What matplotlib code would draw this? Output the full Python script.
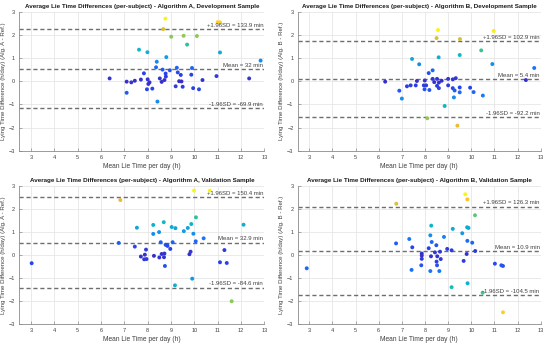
import numpy as np
import matplotlib
matplotlib.use("Agg")
import matplotlib.pyplot as plt
from matplotlib.colors import LinearSegmentedColormap

plt.rcParams['font.family'] = ['Liberation Sans', 'DejaVu Sans']

# ---------------- data ----------------
titles = [
    "Average Lie Time Differences (per-subject) - Algorithm A, Development Sample",
    "Average Lie Time Differences (per-subject) - Algorithm B, Development Sample",
    "Average Lie Time Differences (per-subject) - Algorithm A, Validation Sample",
    "Average Lie Time Differences (per-subject) - Algorithm B, Validation Sample",
]
ylabels = [
    "Lying Time Difference (h/day) (Alg. A - Ref.)",
    "Lying Time Difference (h/day) (Alg. B - Ref.)",
    "Lying Time Difference (h/day) (Alg. A - Ref.)",
    "Lying Time Difference (h/day) (Alg. B - Ref.)",
]
xlabel = "Mean Lie Time per day (h)"

# limits of agreement in minutes: (upper, mean, lower)
loa_min = [
    (133.9, 32.0, -69.9),
    (102.9, 5.4, -92.2),
    (150.4, 32.9, -84.6),
    (126.3, 10.9, -104.5),
]
loa_text = [
    ("+1.96SD = 133.9 min", "Mean = 32 min", "-1.96SD = -69.9 min"),
    ("+1.96SD = 102.9 min", "Mean = 5.4 min", "-1.96SD = -92.2 min"),
    ("+1.96SD = 150.4 min", "Mean = 32.9 min", "-1.96SD = -84.6 min"),
    ("+1.96SD = 126.3 min", "Mean = 10.9 min", "-1.96SD = -104.5 min"),
]

x_a_dev = [8.76, 11.0, 11.1, 8.67, 9.01, 9.54, 10.11, 9.69, 7.63, 7.99, 11.1, 8.80, 8.39,
           12.84, 8.36, 8.64, 8.95, 9.25, 9.90, 7.84, 8.77, 9.29, 8.78, 9.42, 9.87, 6.37,
           7.10, 7.30, 7.45, 7.71, 8.00, 8.03, 8.08, 7.97, 8.20, 8.52, 8.60, 8.72, 9.20,
           9.35, 9.45, 9.50, 9.95, 10.20, 10.35, 10.95, 12.35, 7.10, 8.42]
y_a_dev = [2.70, 2.55, 2.54, 2.25, 1.92, 1.96, 1.95, 1.58, 1.36, 1.25, 1.24, 1.04, 0.84,
           0.89, 0.60, 0.50, 0.47, 0.58, 0.57, 0.34, 0.33, 0.38, 0.20, 0.27, 0.28, 0.12,
           -0.02, -0.05, 0.02, 0.07, 0.08, -0.12, -0.05, -0.35, -0.32, 0.12, -0.03, 0.05, -0.22,
           0.00, -0.01, -0.24, -0.30, -0.35, 0.05, 0.22, 0.12, -0.50, -0.88]

x_b_dev = [8.56, 10.97, 8.50, 9.51, 10.43, 7.44, 8.59, 9.50, 7.75, 10.91, 12.72, 8.33, 8.16,
           12.36, 6.28, 7.65, 7.99, 8.33, 8.52, 8.72, 8.60, 8.40, 9.00, 9.20, 9.33, 7.22,
           7.38, 7.60, 7.95, 8.05, 7.98, 8.19, 8.60, 8.52, 9.00, 9.20, 9.28, 9.50, 9.50,
           9.95, 10.10, 6.89, 7.00, 9.25, 10.50, 8.85, 8.10, 9.40]
y_b_dev = [2.21, 2.17, 1.86, 1.82, 1.33, 0.96, 1.03, 1.13, 0.73, 0.74, 0.57, 0.47, 0.35,
           0.05, -0.02, 0.01, 0.03, 0.10, 0.10, 0.02, -0.06, -0.04, 0.10, 0.08, 0.13, -0.22,
           -0.18, -0.18, -0.18, -0.18, -0.35, -0.38, -0.30, -0.20, -0.18, -0.30, -0.40, -0.27, -0.48,
           -0.28, -0.47, -0.41, -0.75, -0.70, -0.62, -1.07, -1.60, -1.92]

x_a_val = [3.03, 6.83, 9.99, 10.66, 6.76, 7.54, 7.45, 7.93, 7.71, 7.85, 7.88, 7.95, 8.27,
           8.50, 8.60, 8.72, 8.70, 8.74, 8.77, 8.83, 8.85, 8.97, 8.56, 8.49, 8.24, 8.24,
           8.69, 9.03, 9.19, 9.07, 9.55, 9.72, 9.87, 9.96, 10.06, 10.07, 10.40, 12.11, 9.79,
           9.84, 11.10, 11.29, 11.39, 9.91, 9.17, 11.60]
y_a_val = [-0.35, 2.39, 2.80, 2.80, 0.53, 1.19, 0.37, 0.24, -0.06, -0.18, 0.02, -0.17, -0.03,
           -0.10, 0.05, 0.07, -0.09, -0.47, 0.45, 0.44, 0.40, 0.27, 0.56, 1.00, 0.92, 1.31,
           1.43, 1.22, 1.17, 0.56, 1.04, 1.18, 1.35, 0.93, 0.60, 1.64, 0.73, 1.32, 0.04,
           0.15, -0.31, 0.22, -0.34, -1.02, -1.31, -2.00]

x_b_val = [2.89, 6.76, 9.74, 9.83, 10.16, 8.27, 9.20, 9.82, 9.88, 9.61, 8.23, 8.82, 6.75,
           7.32, 7.45, 8.29, 8.49, 9.83, 10.04, 8.16, 8.96, 9.15, 10.17, 7.86, 7.86, 7.86,
           8.43, 8.65, 8.26, 8.53, 8.68, 9.80, 9.67, 8.50, 7.84, 7.42, 8.23, 8.62, 8.52,
           11.02, 11.30, 11.37, 9.15, 9.84, 10.49, 11.37]
y_b_val = [-0.57, 2.23, 2.64, 2.42, 1.73, 1.28, 1.14, 1.21, 1.18, 0.95, 0.86, 0.79, 0.51,
           0.70, 0.34, 0.57, 0.43, 0.62, 0.54, 0.30, 0.27, 0.21, 0.18, 0.07, -0.02, -0.16,
           0.12, 0.15, -0.05, -0.05, -0.17, 0.05, -0.25, -0.28, -0.44, -0.64, -0.69, -0.69, -0.44,
           -0.37, -0.44, -0.47, -1.39, -1.22, -1.63, -2.48]

xs = [x_a_dev, x_b_dev, x_a_val, x_b_val]
ys = [y_a_dev, y_b_dev, y_a_val, y_b_val]

x_ticks = list(range(3, 14))
y_ticks = list(range(-3, 4))

# ---------------- colormap (parula-like) ----------------
parula_pts = [
    (0.00, (0.22, 0.18, 0.78)),
    (0.12, (0.16, 0.26, 0.92)),
    (0.25, (0.10, 0.45, 0.98)),
    (0.38, (0.05, 0.62, 0.90)),
    (0.50, (0.05, 0.72, 0.78)),
    (0.60, (0.20, 0.77, 0.58)),
    (0.70, (0.50, 0.79, 0.37)),
    (0.80, (0.78, 0.77, 0.20)),
    (0.90, (0.99, 0.72, 0.22)),
    (1.00, (0.98, 0.96, 0.08)),
]
parula = LinearSegmentedColormap.from_list("parula_like", parula_pts)

# ---------------- figure ----------------
fig = plt.figure(figsize=(5.5, 3.45), dpi=100)
positions = [
    (0.0351, 0.5632, 0.4455, 0.4029),
    (0.5413, 0.5632, 0.4418, 0.4029),
    (0.0351, 0.0600, 0.4455, 0.4009),
    (0.5413, 0.0600, 0.4418, 0.4009),
]

grid_c = "#e6e6e6"
spine_c = "#8a8a8a"
text_c = "#404040"

for i in range(4):
    ax = fig.add_axes(positions[i])
    x = np.array(xs[i])
    y = np.array(ys[i])
    c = np.abs(y)
    ax.scatter(x, y, c=c, cmap=parula, vmin=0, vmax=c.max(), s=8, linewidths=0, zorder=3)

    up, mn, lo = [v / 60.0 for v in loa_min[i]]
    for val, lab in zip((up, mn, lo), loa_text[i]):
        ax.axhline(val, color="#6e6e6e", lw=1.0, ls=(0, (3, 2)), zorder=2)
        ax.text(12.95, val + 0.05, lab, ha="right", va="bottom", fontsize=4.3,
                color=text_c, zorder=4)

    ax.set_xlim(2.5, 13)
    ax.set_ylim(-3, 3)
    ax.set_xticks(x_ticks)
    ax.set_yticks(y_ticks)
    ax.grid(True, color=grid_c, lw=0.6, zorder=0)
    ax.set_axisbelow(True)
    for s in ("top", "right"):
        ax.spines[s].set_visible(False)
    for s in ("left", "bottom"):
        ax.spines[s].set_color(spine_c)
        ax.spines[s].set_linewidth(0.6)
    ax.tick_params(axis="both", direction="in", length=2, width=0.5, colors=spine_c,
                   labelsize=4.0, labelcolor=text_c, pad=3)
    ax.set_title(titles[i], fontsize=4.5, fontweight="bold", color="#1a1a1a", pad=3)
    ax.set_xlabel(xlabel, fontsize=4.8, color=text_c, labelpad=2)
    ax.set_ylabel(ylabels[i], fontsize=4.4, color=text_c, labelpad=2)

fig.savefig("out.png", dpi=100, facecolor="white")
